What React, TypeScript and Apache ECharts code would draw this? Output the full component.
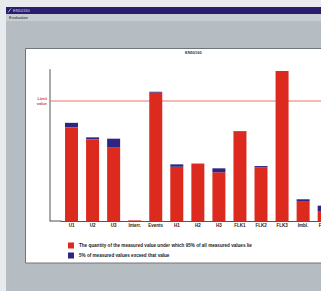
import React, { useEffect, useRef } from "react";
import * as echarts from "echarts";

const categories = ["U1", "U2", "U3", "Interr.", "Events", "H1", "H2", "H3", "FLK1", "FLK2", "FLK3", "Imbl.", "Freq."];
const values95 = [78, 68, 61.4, 0.5, 107, 45.2, 47.5, 40.6, 74.6, 44.6, 125, 16.1, 7.8];
const valuesExceed = [3.8, 1.7, 7.2, 0, 0.7, 2, 0.3, 3.3, 0.4, 1.2, 0, 2, 5];
const limitValue = 100;
const seriesNames = [
  "The quantity of the measured value under which 95% of all measured values lie",
  "5% of measured values exceed that value",
];

export default function App() {
  const ref = useRef<HTMLDivElement>(null);
  useEffect(() => {
    if (!ref.current) return;
    const chart = echarts.init(ref.current, null, { renderer: "svg" });
    const font = "Liberation Sans, Arial, sans-serif";
    const limitColor = "#e8756b";
    chart.setOption({
      animation: false,
      textStyle: { fontFamily: font },
      graphic: [
        { type: "rect", z: -10, shape: { x: 6, y: 7, width: 400, height: 300 }, style: { fill: "#b5bcc2" } },
        { type: "rect", z: -9, shape: { x: 6, y: 7, width: 400, height: 7 }, style: { fill: "#2a1c6e" } },
        { type: "text", z: -8, x: 13, y: 10.5, style: { text: "EN50160", fontSize: 4, fill: "#d8d8ee", verticalAlign: "middle", fontFamily: font } },
        { type: "line", z: -8, shape: { x1: 8, y1: 12.5, x2: 11, y2: 8.5 }, style: { stroke: "#c8c8e8", lineWidth: 0.8 } },
        { type: "rect", z: -9, shape: { x: 6, y: 14, width: 400, height: 7 }, style: { fill: "#c7cdd1" } },
        { type: "text", z: -8, x: 9, y: 17.5, style: { text: "Evaluation", fontSize: 4, fill: "#222", verticalAlign: "middle", fontFamily: font } },
        { type: "rect", z: -9, shape: { x: 25.5, y: 48.5, width: 400, height: 214.5 }, style: { fill: "#ffffff", stroke: "#6e767c", lineWidth: 1 } },
        { type: "line", z: 5, shape: { x1: 50, y1: 221, x2: 61.5, y2: 221 }, style: { stroke: "#555", lineWidth: 1 } },
      ],
      title: {
        text: "EN50160",
        left: 185,
        top: 50,
        padding: 0,
        textStyle: { fontSize: 4, fontWeight: "bold", color: "#333", fontFamily: font },
      },
      legend: {
        orient: "vertical",
        left: 68,
        top: 242.5,
        padding: 0,
        itemGap: 4,
        itemWidth: 6,
        itemHeight: 6,
        icon: "rect",
        selectedMode: false,
        data: seriesNames,
        textStyle: { fontSize: 4.6, fontWeight: "bold", color: "#222", fontFamily: font },
      },
      grid: { left: 61, top: 69.8, bottom: 70, right: 25.3 },
      xAxis: {
        type: "category",
        data: categories,
        axisTick: { show: false },
        axisLine: { show: true, lineStyle: { color: "#555", width: 1 } },
        axisLabel: {
          interval: 0,
          fontSize: 4.5,
          fontWeight: "bold",
          color: "#222",
          margin: 2,
          fontFamily: font,
        },
      },
      yAxis: {
        type: "value",
        min: 0,
        max: 126,
        offset: 11,
        splitLine: { show: false },
        axisTick: { show: false },
        axisLabel: { show: false },
        axisLine: { show: true, onZero: false, lineStyle: { color: "#8d8d8d", width: 1.5 } },
      },
      series: [
        {
          name: seriesNames[0],
          type: "bar",
          stack: "a",
          barWidth: 13,
          data: values95,
          itemStyle: { color: "#dd2a1f" },
          markArea: {
            silent: true,
            z: 1,
            itemStyle: { color: limitColor, opacity: 1, borderWidth: 0 },
            label: {
              show: true,
              position: "left",
              formatter: "Limit\nvalue",
              distance: 3,
              color: "#d9443a",
              fontSize: 4,
              lineHeight: 4.5,
              fontWeight: "bold",
              fontFamily: font,
            },
            emphasis: { disabled: true },
            data: [
              [
                { yAxis: limitValue - 0.45, x: 50 },
                { yAxis: limitValue + 0.45, x: 360 },
              ],
            ],
          },
        },
        {
          name: seriesNames[1],
          type: "bar",
          stack: "a",
          barWidth: 13,
          data: valuesExceed,
          itemStyle: { color: "#2e2484" },
        },
      ],
    });
    return () => chart.dispose();
  }, []);
  return (
    <div style={{ position: "fixed", left: 0, top: 0, width: 321, height: 291, overflow: "hidden", background: "#e8ebed" }}>
      <div ref={ref} style={{ width: 360, height: 291 }} />
    </div>
  );
}
